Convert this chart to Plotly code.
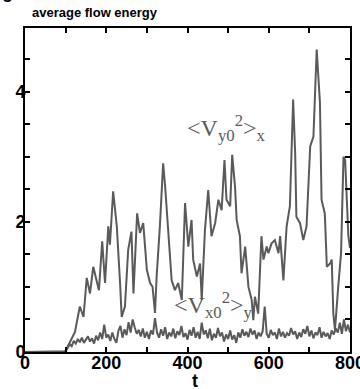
import plotly.graph_objects as go

# Vy0 curve: <Vy0^2>_x
t_y = [0, 95, 100, 110, 123, 135, 144, 152, 160, 168, 176, 182, 190, 197, 205, 209, 217, 226, 234, 238,
       246, 254, 262, 267, 276, 283, 291, 300, 308, 314, 320, 324, 332, 340, 345, 353, 361, 369, 377, 386,
       394, 402, 410, 414, 423, 431, 435, 443, 451, 459, 468, 476, 484, 491, 496, 505, 510, 517, 521, 529,
       533, 542, 550, 558, 562, 566, 574, 582, 587, 595, 599, 607, 615, 624, 628, 636, 644, 652, 660, 665,
       668, 677, 685, 693, 702, 710, 718, 726, 730, 738, 743, 751, 755, 759, 763, 771, 778, 784, 788, 796, 800]
v_y = [0, 0, 0.02, 0.15, 0.31, 0.70, 0.54, 1.14, 0.9, 1.31, 1.1, 0.95, 1.70, 1.06, 1.93, 1.65, 2.47, 1.93, 1.06, 0.54,
       0.70, 1.57, 1.85, 0.9, 2.13, 1.83, 1.98, 1.26, 1.06, 1.0, 0.6, 1.16, 1.93, 2.90, 2.54, 1.88, 1.1, 0.95, 1.06, 0.8,
       2.29, 1.62, 2.03, 1.42, 1.16, 1.36, 0.8, 1.88, 2.49, 1.78, 1.98, 2.34, 2.18, 2.95, 2.34, 2.24, 3.03, 2.54, 2.03, 1.78,
       1.21, 1.62, 1.0, 0.8, 0.49, 0.85, 0.59, 1.78, 1.42, 1.62, 1.52, 1.67, 1.72, 1.52, 1.78, 1.1, 1.93, 2.24, 3.88, 3.06,
       2.08, 1.98, 1.72, 1.93, 3.16, 3.31, 4.65, 3.83, 2.34, 2.13, 1.31, 1.36, 1.42, 0.59, 0.34, 1.0, 1.52, 3.0, 2.95, 1.78, 1.6]

# Vx0 curve: <Vx0^2>_y, sampled every 5 time units
t_x = list(range(0, 805, 5))
v_x = [0] * 20 + [
    0.01, 0.06, 0.12, 0.09, 0.17, 0.13, 0.2, 0.15, 0.22, 0.14, 0.19, 0.24, 0.16, 0.21, 0.13, 0.25, 0.18, 0.3, 0.2, 0.42,
    0.22, 0.27, 0.17, 0.3, 0.2, 0.14, 0.33, 0.4, 0.22, 0.35, 0.26, 0.46, 0.3, 0.5, 0.38, 0.28, 0.34, 0.24, 0.36, 0.22,
    0.31, 0.2, 0.33, 0.27, 0.52, 0.3, 0.22, 0.35, 0.25, 0.38, 0.2, 0.3, 0.24, 0.36, 0.21, 0.32, 0.26, 0.4, 0.23, 0.29,
    0.19, 0.34, 0.25, 0.38, 0.22, 0.31, 0.2, 0.45, 0.27, 0.33, 0.21, 0.36, 0.18, 0.28, 0.22, 0.37, 0.24, 0.3, 0.16, 0.27,
    0.2, 0.33, 0.19, 0.26, 0.14, 0.3, 0.22, 0.35, 0.25, 0.31, 0.23, 0.36, 0.27, 0.33, 0.2, 0.3, 0.24, 0.32, 0.7, 0.28,
    0.22, 0.34, 0.26, 0.3, 0.2, 0.36, 0.24, 0.31, 0.22, 0.29, 0.25, 0.37, 0.27, 0.32, 0.2, 0.3, 0.23, 0.35, 0.28, 0.4,
    0.24, 0.33, 0.21, 0.3, 0.26, 0.38, 0.22, 0.31, 0.24, 0.29, 0.2, 0.33, 0.27, 0.36, 0.3, 0.45, 0.28, 0.5, 0.32, 0.42,
    0.3]

x_tickvals = [0, 100, 200, 300, 400, 500, 600, 700, 800]
x_ticktext = ["0", "", "200", "", "400", "", "600", "", "800"]
y_tickvals = [0, 0.5, 1, 1.5, 2, 2.5, 3, 3.5, 4, 4.5, 5]
y_ticktext = ["0", "", "", "", "2", "", "", "", "4", "", ""]

LINE = "#5a5a5a"

fig = go.Figure()
fig.add_trace(go.Scatter(x=t_x, y=v_x, mode="lines", line=dict(color=LINE, width=2), showlegend=False))
fig.add_trace(go.Scatter(x=t_y, y=v_y, mode="lines", line=dict(color=LINE, width=2), showlegend=False))

axis_common = dict(showline=True, linecolor="black", linewidth=2, mirror="ticks", ticks="inside",
                   ticklen=5, tickwidth=1.5, tickcolor="black", showgrid=False, zeroline=False,
                   automargin=False, ticklabeloverflow="allow",
                   tickfont=dict(family="Liberation Sans", size=18, color="black", weight="bold"))

fig.update_xaxes(range=[0, 800], tickmode="array", tickvals=x_tickvals, ticktext=x_ticktext,
                 ticklabelstandoff=-7, **axis_common)
fig.update_yaxes(range=[0, 4.98], tickmode="array", tickvals=y_tickvals, ticktext=y_ticktext,
                 ticklabelstandoff=-6, **axis_common)

fig.add_annotation(x=394, y=3.45, xref="x", yref="y", xanchor="left", yanchor="middle", showarrow=False,
                   text="&lt;V<sub>y0</sub><sup>2</sup>&gt;<sub>x</sub>",
                   font=dict(family="Liberation Serif", size=24, color=LINE))
fig.add_annotation(x=362, y=0.72, xref="x", yref="y", xanchor="left", yanchor="middle", showarrow=False,
                   text="&lt;V<sub>x0</sub><sup>2</sup>&gt;<sub>y</sub>",
                   font=dict(family="Liberation Serif", size=24, color=LINE))
fig.add_annotation(x=(30 - 25) / 325, y=1 + (28 - 22) / 324, xref="paper", yref="paper",
                   xanchor="left", yanchor="bottom", showarrow=False, text="<b>average flow energy</b>",
                   font=dict(family="Liberation Sans", size=13, color="black"))
fig.add_annotation(x=(195 - 25) / 325, y=-(369 - 352) / 324, xref="paper", yref="paper",
                   xanchor="center", yanchor="top", showarrow=False, text="<b>t</b>",
                   font=dict(family="Liberation Sans", size=18, color="black"))
# cropped panel letter at the very top-left corner
fig.add_annotation(x=(0 - 25) / 325, y=1 + (28 - 4) / 324, xref="paper", yref="paper",
                   xanchor="left", yanchor="bottom", showarrow=False, text="<b>g</b>",
                   font=dict(family="Liberation Sans", size=18, color="black"))

fig.update_layout(width=360, height=389, margin=dict(l=25, r=10, t=28, b=37),
                  plot_bgcolor="white", paper_bgcolor="white")

fig.write_html("out.html", config={"displayModeBar": False},
               post_script="document.body.style.margin='0';")
